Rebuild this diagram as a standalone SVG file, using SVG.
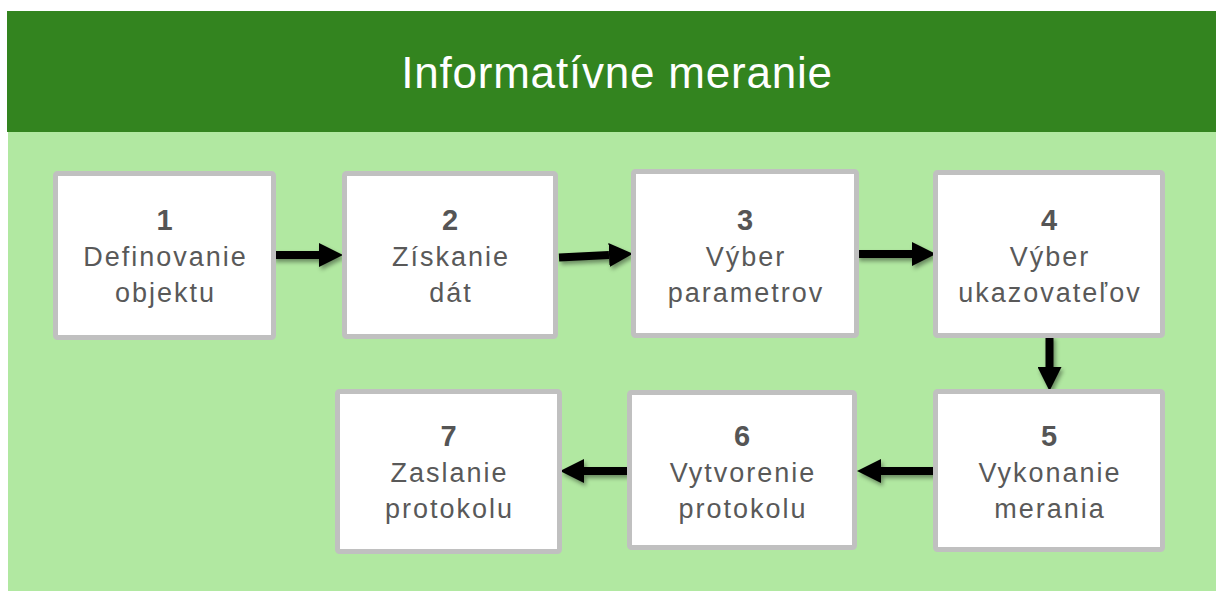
<svg xmlns="http://www.w3.org/2000/svg" width="1216" height="591" viewBox="0 0 1216 591">
  <style>
    .box { fill: #ffffff; stroke: #c0c0c0; stroke-width: 5; }
    .num { font-family: "Liberation Sans", Arial, sans-serif; font-weight: bold; font-size: 29px; fill: #555555; text-anchor: middle; }
    .lbl { font-family: "Liberation Sans", Arial, sans-serif; font-size: 27px; fill: #595959; text-anchor: middle; letter-spacing: 2px; }
    .title { font-family: "Liberation Sans", Arial, sans-serif; font-size: 44px; fill: #ffffff; text-anchor: middle; letter-spacing: 0.8px; }
    .conn { fill: none; stroke: #000000; stroke-width: 8; marker-end: url(#head); }
  </style>
  <defs>
    <marker id="head" markerUnits="userSpaceOnUse" markerWidth="24" markerHeight="24" refX="0" refY="12" orient="auto" viewBox="0 0 24 24">
      <path d="M0,0 L24,12 L0,24 z" fill="#000000"/>
    </marker>
    <filter id="shadow" x="-20%" y="-50%" width="140%" height="200%">
      <feDropShadow dx="2" dy="3" stdDeviation="2" flood-color="#000000" flood-opacity="0.4"/>
    </filter>
  </defs>

  <rect x="8" y="132" width="1208" height="459" fill="#b1e8a1"/>
  <rect x="7" y="11" width="1209" height="121" fill="#33841f"/>
  <text class="title" x="617" y="88">Informatívne meranie</text>

  <g id="connectors" filter="url(#shadow)">
    <path class="conn" d="M273,255 L319,255"/>
    <path class="conn" d="M559,257.5 L609,255"/>
    <path class="conn" d="M857,254 L912,254"/>
    <path class="conn" d="M1049.5,336 L1049.5,367"/>
    <path class="conn" d="M935,471 L881,471"/>
    <path class="conn" d="M628,471 L584,471"/>
  </g>

  <g id="node1">
    <rect class="box" x="55.5" y="173.5" width="218" height="164" rx="2"/>
    <text class="num" x="164.5" y="230">1</text>
    <text class="lbl" x="165.5" y="266">Definovanie</text>
    <text class="lbl" x="165.5" y="302">objektu</text>
  </g>
  <g id="node2">
    <rect class="box" x="344.5" y="173.5" width="211" height="163" rx="2"/>
    <text class="num" x="450" y="230">2</text>
    <text class="lbl" x="451" y="266">Získanie</text>
    <text class="lbl" x="451" y="302">dát</text>
  </g>
  <g id="node3">
    <rect class="box" x="633.5" y="171.5" width="223" height="164" rx="2"/>
    <text class="num" x="745" y="230">3</text>
    <text class="lbl" x="746" y="266">Výber</text>
    <text class="lbl" x="746" y="302">parametrov</text>
  </g>
  <g id="node4">
    <rect class="box" x="935.5" y="172.5" width="227" height="163" rx="2"/>
    <text class="num" x="1049" y="230">4</text>
    <text class="lbl" x="1050" y="266">Výber</text>
    <text class="lbl" x="1050" y="302">ukazovateľov</text>
  </g>
  <g id="node5">
    <rect class="box" x="935.5" y="391.5" width="227" height="158" rx="2"/>
    <text class="num" x="1049" y="446">5</text>
    <text class="lbl" x="1050" y="482">Vykonanie</text>
    <text class="lbl" x="1050" y="518">merania</text>
  </g>
  <g id="node6">
    <rect class="box" x="629.5" y="392.5" width="225" height="155" rx="2"/>
    <text class="num" x="742" y="446">6</text>
    <text class="lbl" x="743" y="482">Vytvorenie</text>
    <text class="lbl" x="743" y="518">protokolu</text>
  </g>
  <g id="node7">
    <rect class="box" x="337.5" y="391.5" width="222" height="160" rx="2"/>
    <text class="num" x="448.5" y="446">7</text>
    <text class="lbl" x="449.5" y="482">Zaslanie</text>
    <text class="lbl" x="449.5" y="518">protokolu</text>
  </g>
</svg>
